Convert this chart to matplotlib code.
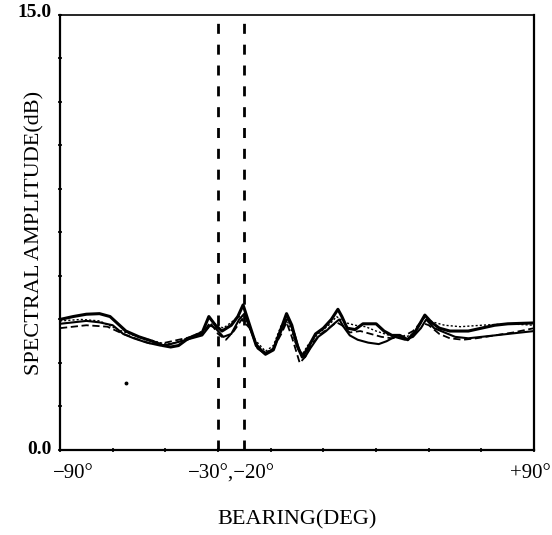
import numpy as np
import matplotlib
matplotlib.use("Agg")
import matplotlib.pyplot as plt
import matplotlib.transforms as mtransforms

# ---- data (bearing in degrees, spectral amplitude in dB) ----
a_deg = [-90, -85, -80, -75, -71, -68, -65, -60, -55, -51, -48, -45, -42, -40, -36, -33.5, -31, -28.5,
         -25, -22.5, -20.5, -18, -15.5, -12, -9, -6, -4, -2, 0, 2, 4, 7, 10, 13, 15.5, 17, 19, 22, 25,
         30, 33, 36, 39, 42, 45, 48.5, 51, 54, 58, 65, 70, 75, 80, 90]
a_db = [4.5, 4.6, 4.68, 4.7, 4.6, 4.35, 4.1, 3.9, 3.75, 3.6, 3.55, 3.6, 3.8, 3.9, 4.05, 4.6, 4.3, 4.1,
        4.3, 4.6, 5.0, 4.3, 3.6, 3.3, 3.45, 4.2, 4.7, 4.3, 3.6, 3.2, 3.5, 4.0, 4.2, 4.5, 4.85, 4.6, 4.2, 4.15, 4.35,
        4.35, 4.1, 3.95, 3.95, 3.8, 4.1, 4.65, 4.4, 4.2, 4.1, 4.1, 4.2, 4.3, 4.35, 4.38]

b_deg = [-90, -85, -80, -75, -70, -66, -62, -57, -52, -48, -44, -40, -36, -33, -31, -28, -25, -22, -20,
         -17.5, -15, -12, -9, -6, -3.5, -1, 1, 3, 5, 8, 11, 14, 16, 18, 20, 23, 27, 31, 34, 37, 41, 44,
         47, 49, 52, 56, 60, 65, 70, 75, 80, 85, 90]
b_db = [4.35, 4.4, 4.45, 4.4, 4.3, 4.0, 3.85, 3.7, 3.6, 3.65, 3.75, 3.85, 3.95, 4.3, 4.2, 3.9, 4.0, 4.5, 4.7,
        4.1, 3.5, 3.3, 3.5, 4.1, 4.55, 4.0, 3.4, 3.2, 3.5, 3.9, 4.1, 4.35, 4.5, 4.2, 3.95, 3.8, 3.7, 3.65, 3.75,
        3.9, 3.8, 3.9, 4.2, 4.5, 4.2, 4.05, 3.9, 3.85, 3.9, 3.95, 4.0, 4.05, 4.1]

c_deg = [-90, -80, -72, -66, -60, -55, -50, -45, -40, -36, -33, -30, -27, -24, -21, -18, -15, -12, -9,
         -6, -4, -2, 1, 3, 6, 9, 12, 15, 17, 20, 24, 28, 32, 36, 40, 44, 47, 50, 54, 58, 63, 68, 75, 82, 90]
c_db = [4.2, 4.3, 4.25, 4.0, 3.8, 3.65, 3.7, 3.8, 3.9, 4.0, 4.4, 4.0, 3.8, 4.1, 4.5, 4.2, 3.6, 3.35, 3.5,
        4.0, 4.4, 3.9, 3.0, 3.2, 3.7, 4.0, 4.2, 4.4, 4.3, 4.05, 4.1, 4.0, 3.9, 3.85, 3.9, 4.1, 4.4, 4.3, 4.0,
        3.85, 3.8, 3.85, 3.95, 4.05, 4.2]

d_deg = [-90, -82, -75, -68, -62, -56, -50, -46, -42, -38, -34, -31, -28, -25, -22, -19, -16, -12, -9,
         -6, -4, -2, 0, 2, 4, 8, 12, 15, 18, 22, 26, 30, 35, 40, 44, 48, 52, 56, 62, 70, 80, 90]
d_db = [4.45, 4.5, 4.45, 4.15, 3.95, 3.8, 3.65, 3.7, 3.85, 4.0, 4.2, 4.35, 4.2, 4.4, 4.6, 4.4, 3.8, 3.4, 3.6,
        4.3, 4.5, 4.1, 3.5, 3.3, 3.6, 4.0, 4.3, 4.6, 4.4, 4.3, 4.25, 4.1, 3.95, 3.85, 4.0, 4.55, 4.4, 4.3,
        4.25, 4.3, 4.35, 4.3]

stray_deg = [-65]
stray_db = [2.3]

marker_bearings = [-30, -20]
x_tick_labels = ["\u221290\u00b0", "\u221230\u00b0,\u221220\u00b0", "+90\u00b0"]
y_tick_labels = ["0.0", "15.0"]

serif = ["Liberation Serif", "DejaVu Serif"]

fig = plt.figure(figsize=(5.52, 5.35), dpi=100)
ax = fig.add_axes([0.1087, 0.159, 0.859, 0.813])

ax.plot(a_deg, a_db, color="black", lw=2.2, solid_joinstyle="round")
ax.plot(b_deg, b_db, color="black", lw=1.5, solid_joinstyle="round")
ax.plot(c_deg, c_db, color="black", lw=1.3, ls=(0, (4, 2)))
ax.plot(d_deg, d_db, color="black", lw=1.0, ls=(0, (1.5, 1.5)))
ax.plot(stray_deg, stray_db, "o", color="black", ms=1.8)

for b in marker_bearings:
    ax.axvline(b, color="black", lw=2.0, ls=(0, (3.6, 3.9)))

ax.set_xlim(-90, 90)
ax.set_ylim(0, 15)
ax.set_xticks(np.arange(-90, 91, 20))
ax.set_yticks(np.arange(0, 15.01, 1.5))
ax.tick_params(direction="inout", length=3, width=1.2, labelbottom=False, labelleft=False)
for s in ax.spines.values():
    s.set_linewidth(1.6)
ax.spines["top"].set_linewidth(1.2)

# tick labels placed as text
tb = mtransforms.blended_transform_factory(ax.transData, ax.transAxes)
ax.text(-85, -0.055, x_tick_labels[0], transform=tb, ha="center", va="center",
        fontsize=15, family=serif, clip_on=False)
ax.text(-25, -0.055, x_tick_labels[1], transform=tb, ha="center", va="center",
        fontsize=15, family=serif, clip_on=False)
tr = mtransforms.blended_transform_factory(fig.transFigure, ax.transAxes)
ax.text(0.998, -0.055, x_tick_labels[2], transform=tr, ha="right", va="center",
        fontsize=15, family=serif, clip_on=False)
tl = mtransforms.blended_transform_factory(ax.transAxes, ax.transData)
ax.text(-0.018, 0, y_tick_labels[0], transform=tl, ha="right", va="center",
        fontsize=14, family=serif, fontweight="bold", clip_on=False)
ax.text(-0.018, 15.1, y_tick_labels[1], transform=tl, ha="right", va="center",
        fontsize=14, family=serif, fontweight="bold", clip_on=False)

ax.set_xlabel("BEARING(DEG)", family=serif, fontsize=16, labelpad=42)
ax.set_ylabel("SPECTRAL AMPLITUDE(dB)", family=serif, fontsize=16, labelpad=10)

fig.savefig("out.png", dpi=100)
